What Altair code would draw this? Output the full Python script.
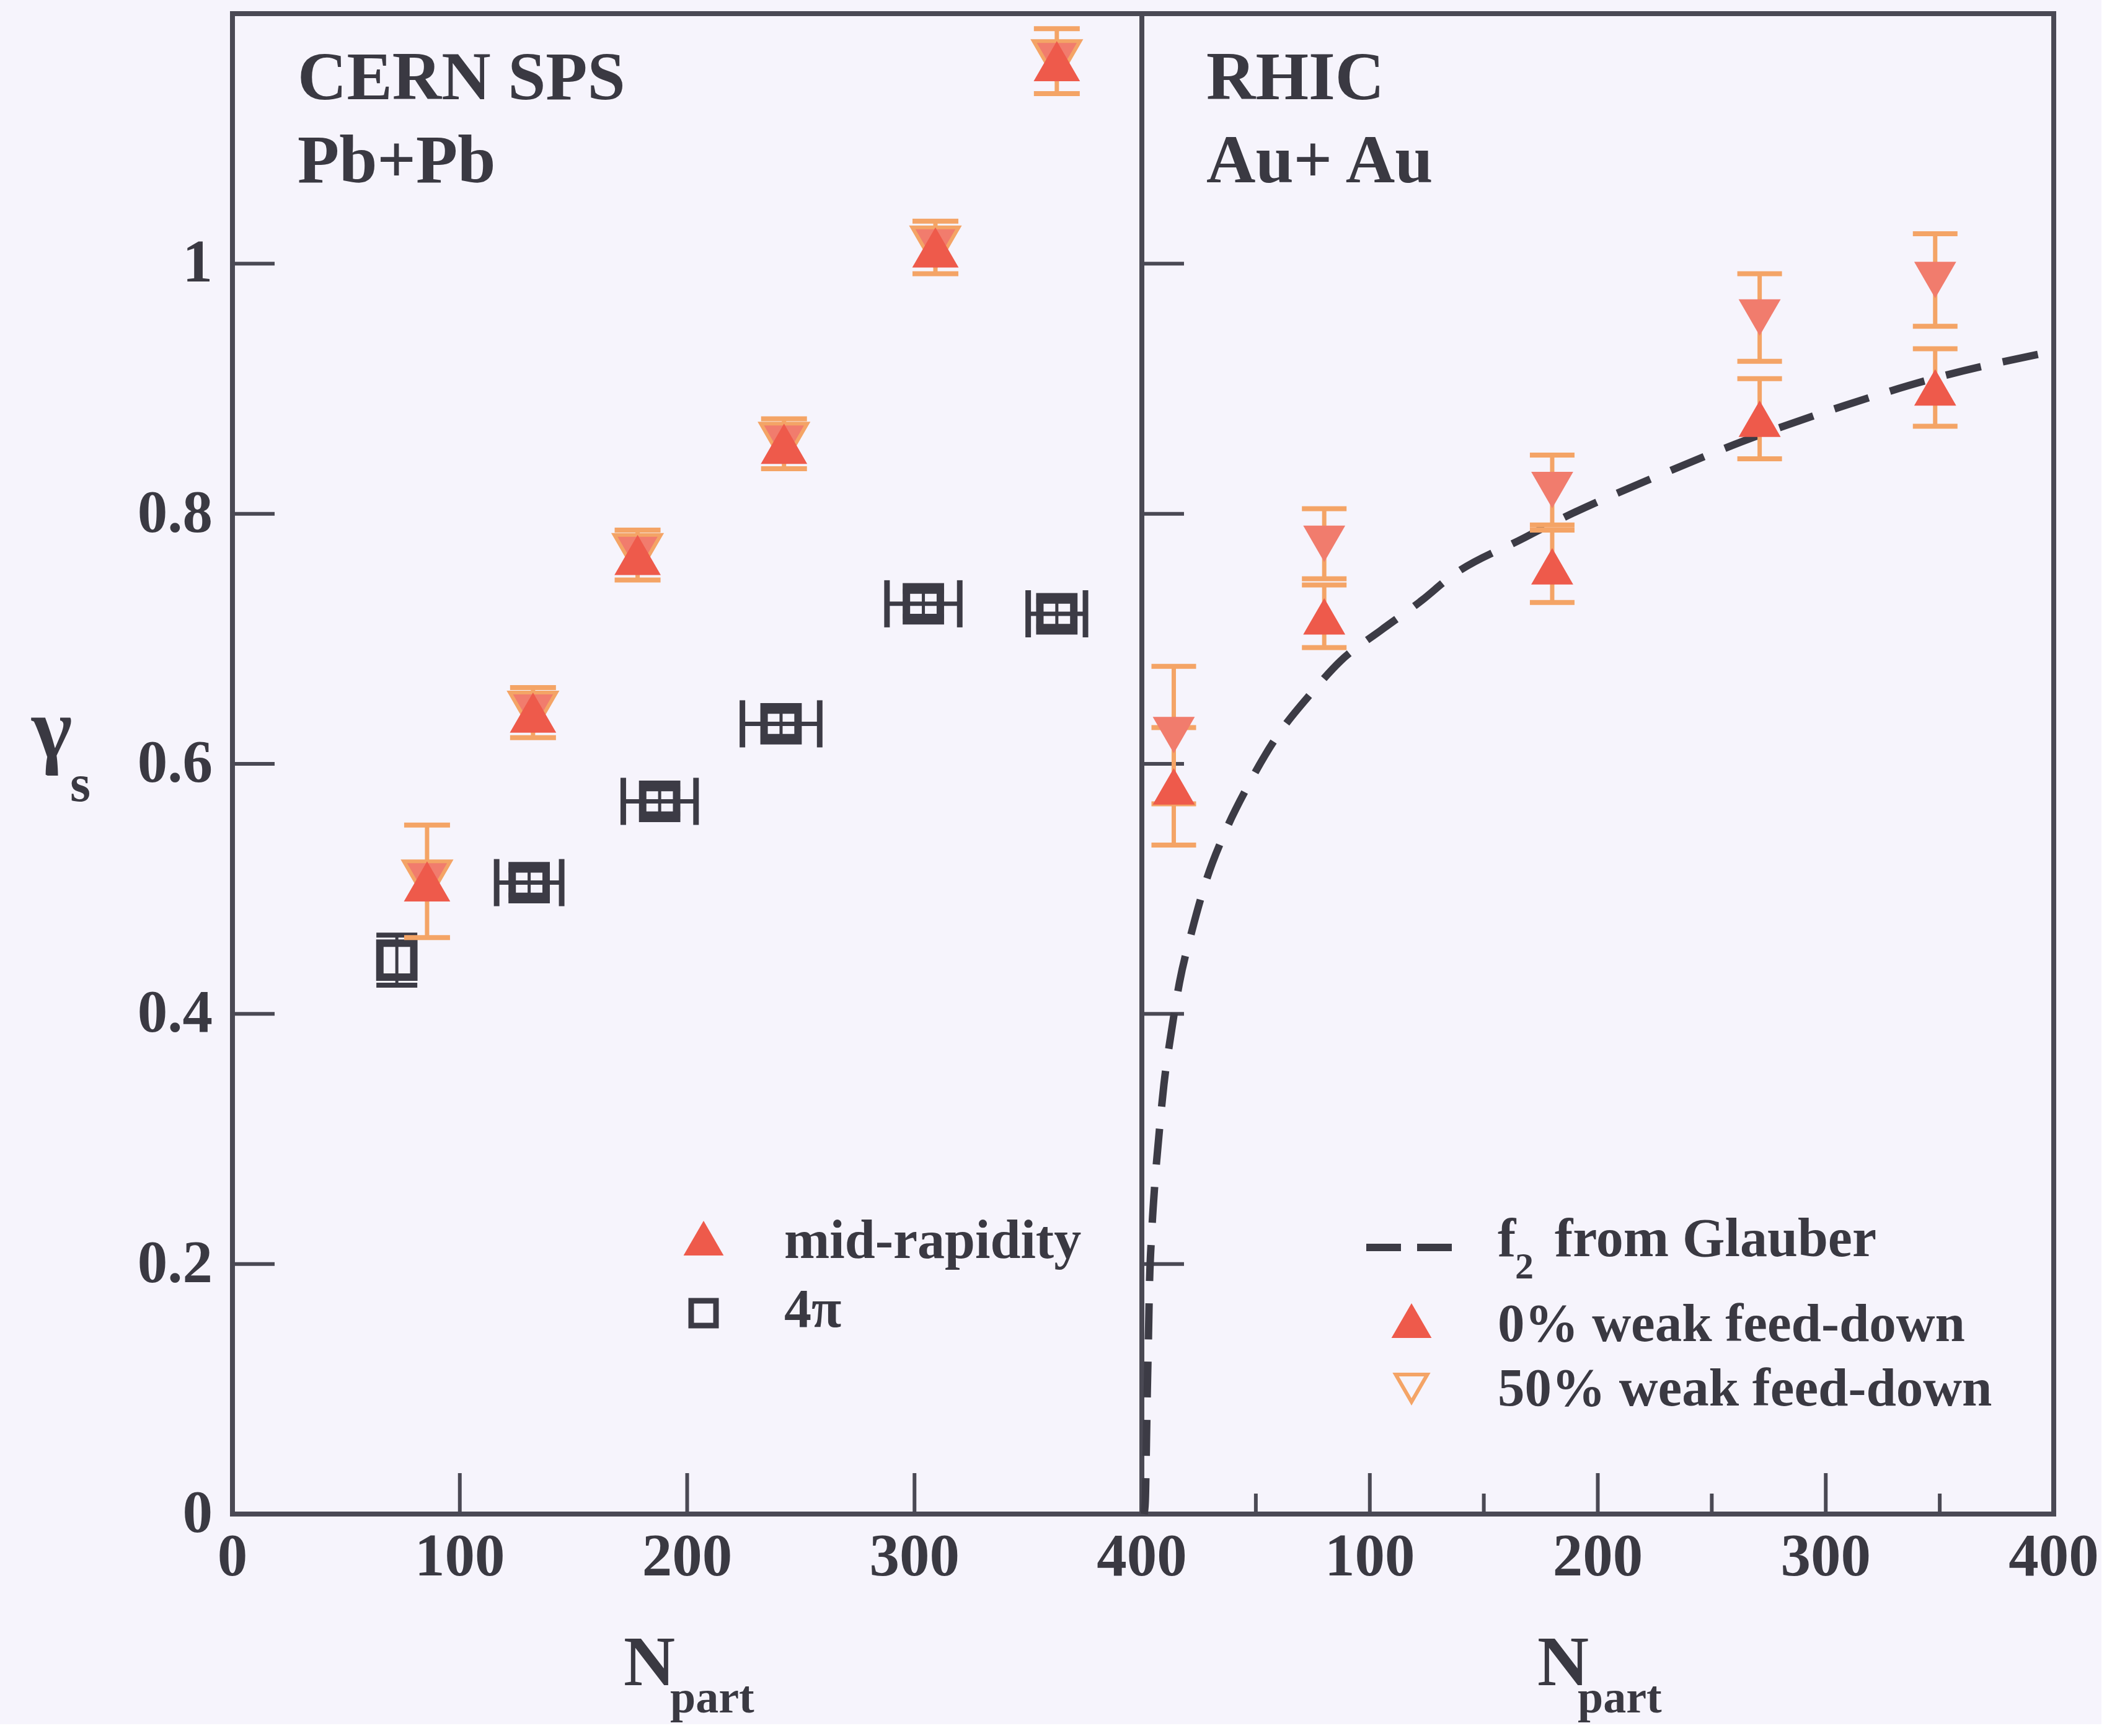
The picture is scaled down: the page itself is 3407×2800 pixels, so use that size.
import altair as alt
import pandas as pd

# ---------------- data ----------------
# CERN SPS Pb+Pb, mid-rapidity
sps_mid_npart = [85.6, 132.2, 178.2, 242.6, 309.2, 362.6]
sps_mid_gamma = [0.506, 0.641, 0.767, 0.856, 1.013, 1.162]
sps_mid_err = [0.045, 0.020, 0.020, 0.020, 0.021, 0.026]

# CERN SPS Pb+Pb, 4pi
sps_4pi_npart = [72.3, 130.5, 187.9, 241.3, 303.9, 362.6]
sps_4pi_gamma = [0.443, 0.505, 0.570, 0.632, 0.728, 0.720]
sps_4pi_xerr = [0.0, 14.3, 16.0, 17.0, 16.0, 12.6]
sps_4pi_yerr = [0.020, 0.010, 0.010, 0.010, 0.010, 0.010]

# RHIC Au+Au
rhic_npart = [14, 80, 180, 271, 348]
rhic_g0 = [0.582, 0.718, 0.758, 0.876, 0.901]
rhic_g0_err = [0.047, 0.025, 0.029, 0.032, 0.031]
rhic_g50 = [0.623, 0.776, 0.819, 0.957, 0.987]
rhic_g50_err = [0.055, 0.028, 0.028, 0.035, 0.037]

# f2 from Glauber (dashed curve)
glauber_npart = [1.0, 1.5, 2.0, 2.4, 2.9, 3.3, 4.3, 5.6, 7.4, 9.7, 12.8, 16.5, 21.9,
                 28.3, 36.4, 46.4, 58.2, 75.0, 87.0, 105.0, 123.0, 135.0, 168.0,
                 184.0, 226.0, 268.0, 309.0, 351.0, 400.0]
glauber_f2 = [0.0, 0.01, 0.056, 0.099, 0.142, 0.18, 0.224, 0.262, 0.301, 0.344, 0.384,
              0.425, 0.466, 0.507, 0.545, 0.582, 0.619, 0.658, 0.682, 0.707, 0.731,
              0.749, 0.781, 0.796, 0.830, 0.861, 0.887, 0.910, 0.930]

# axis ticks / labels
y_ticks = [0.2, 0.4, 0.6, 0.8, 1.0]
y_label_vals = [0.0, 0.2, 0.4, 0.6, 0.8, 1.0]
y_label_text = ["0", "0.2", "0.4", "0.6", "0.8", "1"]
x_major = [100, 200, 300]
x_minor = [50, 150, 250, 350]
x_left_vals = [0, 100, 200, 300, 400]
x_right_vals = [100, 200, 300, 400]

# ---------------- style ----------------
FONT = "Liberation Serif"
BG = "#f6f4fc"
AX = "#4a4954"
TXT = "#3a3942"
RED = "#ee5a4b"
SALMON = "#f17c6d"
ORANGE = "#f4a466"
DARK = "#3c3b45"

WL, WR, H = 1467, 1471, 2420
xs = alt.Scale(domain=[0, 400], nice=False, zero=False)
ys = alt.Scale(domain=[0, 1.2], nice=False, zero=False)


def X(f):
    return alt.X(f, type="quantitative", scale=xs, axis=None)


def Y(f):
    return alt.Y(f, type="quantitative", scale=ys, axis=None)


def label(text, x, y, size, align="left", baseline="alphabetic", color=TXT):
    return alt.Chart(alt.Data(values=[{"t": text}])).mark_text(
        font=FONT, fontSize=size, fontWeight="bold", color=color, align=align, baseline=baseline
    ).encode(x=alt.value(x), y=alt.value(y), text="t:N")


def sym(shape, x, y, size, filled, color, sw=0):
    return alt.Chart(alt.Data(values=[{"a": 1}])).mark_point(
        shape=shape, filled=filled, size=size, color=color, strokeWidth=sw, opacity=1,
        fill=color if filled else BG
    ).encode(x=alt.value(x), y=alt.value(y))


def frame_layers(minor):
    yt = pd.DataFrame({"v": y_ticks})
    layers = [
        alt.Chart(yt).mark_rule(color=AX, strokeWidth=6).encode(
            y=Y("v"), x=alt.value(0), x2=alt.value(68)),
        alt.Chart(pd.DataFrame({"v": x_major})).mark_rule(color=AX, strokeWidth=6).encode(
            x=X("v"), y=alt.value(H), y2=alt.value(H - 66)),
    ]
    if minor:
        layers.append(
            alt.Chart(pd.DataFrame({"v": x_minor})).mark_rule(color=AX, strokeWidth=6).encode(
                x=X("v"), y=alt.value(H), y2=alt.value(H - 33)))
    return layers


# ---------------- left panel: CERN SPS ----------------
mid = pd.DataFrame({"n": sps_mid_npart, "g": sps_mid_gamma, "e": sps_mid_err})
mid["lo"] = mid["g"] - mid["e"]
mid["hi"] = mid["g"] + mid["e"]

pi4 = pd.DataFrame({"n": sps_4pi_npart, "g": sps_4pi_gamma,
                    "xe": sps_4pi_xerr, "ye": sps_4pi_yerr})
pi4["xlo"] = pi4["n"] - pi4["xe"]
pi4["xhi"] = pi4["n"] + pi4["xe"]
pi4["ylo"] = pi4["g"] - pi4["ye"]
pi4["yhi"] = pi4["g"] + pi4["ye"]
pi4x = pi4[pi4["xe"] > 0]

left_layers = frame_layers(False) + [
    # 4pi error bars
    alt.Chart(pi4x).mark_rule(color=DARK, strokeWidth=7).encode(x=X("xlo"), x2="xhi", y=Y("g")),
    alt.Chart(pi4x).mark_tick(orient="vertical", size=76, thickness=9, color=DARK, opacity=1).encode(x=X("xlo"), y=Y("g")),
    alt.Chart(pi4x).mark_tick(orient="vertical", size=76, thickness=9, color=DARK, opacity=1).encode(x=X("xhi"), y=Y("g")),
    alt.Chart(pi4).mark_rule(color=DARK, strokeWidth=5).encode(x=X("n"), y=Y("ylo"), y2="yhi"),
    alt.Chart(pi4).mark_tick(orient="horizontal", size=66, thickness=8, color=DARK, opacity=1).encode(x=X("n"), y=Y("ylo")),
    alt.Chart(pi4).mark_tick(orient="horizontal", size=66, thickness=8, color=DARK, opacity=1).encode(x=X("n"), y=Y("yhi")),
    alt.Chart(pi4).mark_point(shape="square", filled=False, size=3000, strokeWidth=12, color=DARK, opacity=1).encode(x=X("n"), y=Y("g")),
    # mid-rapidity
    alt.Chart(mid).mark_rule(color=ORANGE, strokeWidth=7).encode(x=X("n"), y=Y("lo"), y2="hi"),
    alt.Chart(mid).mark_tick(orient="horizontal", size=74, thickness=8, color=ORANGE, opacity=1).encode(x=X("n"), y=Y("lo")),
    alt.Chart(mid).mark_tick(orient="horizontal", size=74, thickness=8, color=ORANGE, opacity=1).encode(x=X("n"), y=Y("hi")),
    alt.Chart(mid).mark_point(shape="triangle-down", filled=True, size=5600, color=SALMON, stroke=ORANGE, strokeWidth=6, opacity=1).encode(x=X("n"), y=Y("g")),
    alt.Chart(mid).mark_point(shape="triangle-up", filled=True, size=5600, color=RED, opacity=1).encode(x=X("n"), y=Y("g")),
    # tick labels
    alt.Chart(pd.DataFrame({"v": y_label_vals, "t": y_label_text})).mark_text(
        font=FONT, fontSize=97, fontWeight="bold", color=TXT, align="right", baseline="middle").encode(
        y=Y("v"), x=alt.value(-32), text="t:N"),
    alt.Chart(pd.DataFrame({"v": x_left_vals})).mark_text(
        font=FONT, fontSize=97, fontWeight="bold", color=TXT, align="center", baseline="alphabetic").encode(
        x=X("v"), y=alt.value(H + 99), text=alt.Text("v:Q", format="d")),
    # titles
    label("CERN SPS", 105, 138, 110),
    label("Pb+Pb", 105, 272, 110),
    label("γ", -324, 1199, 140),
    label("s", -262, 1270, 85),
    label("N", 631, H + 276, 115),
    label("part", 706, H + 320, 74),
    # legend
    sym("triangle-up", 760, 1975, 4200, True, RED),
    label("mid-rapidity", 890, 2007, 88),
    sym("square", 760, 2096, 1600, False, DARK, sw=9),
    label("4π", 890, 2118, 88),
]
left = alt.layer(*left_layers).properties(width=WL, height=H)

# ---------------- right panel: RHIC ----------------
rh = pd.DataFrame({"n": rhic_npart, "g0": rhic_g0, "e0": rhic_g0_err,
                   "g5": rhic_g50, "e5": rhic_g50_err})
rh["lo0"] = rh["g0"] - rh["e0"]
rh["hi0"] = rh["g0"] + rh["e0"]
rh["lo5"] = rh["g5"] - rh["e5"]
rh["hi5"] = rh["g5"] + rh["e5"]
gl = pd.DataFrame({"n": glauber_npart, "f": glauber_f2})

right_layers = frame_layers(True) + [
    alt.Chart(gl).mark_line(color=DARK, strokeWidth=12, strokeDash=[58, 36], interpolate="monotone").encode(x=X("n"), y=Y("f")),
]
for g, lo, hi in (("g5", "lo5", "hi5"), ("g0", "lo0", "hi0")):
    right_layers += [
        alt.Chart(rh).mark_rule(color=ORANGE, strokeWidth=7).encode(x=X("n"), y=Y(lo), y2=hi),
        alt.Chart(rh).mark_tick(orient="horizontal", size=72, thickness=8, color=ORANGE, opacity=1).encode(x=X("n"), y=Y(lo)),
        alt.Chart(rh).mark_tick(orient="horizontal", size=72, thickness=8, color=ORANGE, opacity=1).encode(x=X("n"), y=Y(hi)),
    ]
right_layers += [
    alt.Chart(rh).mark_point(shape="triangle-down", filled=True, size=4600, color=SALMON, opacity=1).encode(x=X("n"), y=Y("g5")),
    alt.Chart(rh).mark_point(shape="triangle-up", filled=True, size=4600, color=RED, opacity=1).encode(x=X("n"), y=Y("g0")),
    alt.Chart(pd.DataFrame({"v": x_right_vals})).mark_text(
        font=FONT, fontSize=97, fontWeight="bold", color=TXT, align="center", baseline="alphabetic").encode(
        x=X("v"), y=alt.value(H + 99), text=alt.Text("v:Q", format="d")),
    label("RHIC", 104, 138, 110),
    label("Au+ Au", 104, 272, 110),
    label("N", 638, H + 276, 115),
    label("part", 703, H + 320, 74),
    # legend
    alt.Chart(alt.Data(values=[{"a": 1}])).mark_rule(color=DARK, strokeWidth=12, strokeDash=[56, 26]).encode(
        x=alt.value(362), x2=alt.value(500), y=alt.value(1990)),
    label("f", 574, 2004, 88),
    label("2", 602, 2040, 60),
    label("from Glauber", 666, 2004, 88),
    sym("triangle-up", 435, 2108, 4200, True, RED),
    label("0% weak feed-down", 574, 2141, 87),
    sym("triangle-down", 435, 2217, 2600, False, ORANGE, sw=6),
    label("50% weak feed-down", 574, 2245, 87),
]
right = alt.layer(*right_layers).properties(width=WR, height=H)

chart = alt.hconcat(left, right, spacing=0, bounds="flush").properties(
    background=BG,
    padding={"left": 47, "top": 18, "right": 0, "bottom": 0},
).configure_view(stroke=AX, strokeWidth=8)

chart.save("out.html", embed_options={"renderer": "svg", "actions": False})
